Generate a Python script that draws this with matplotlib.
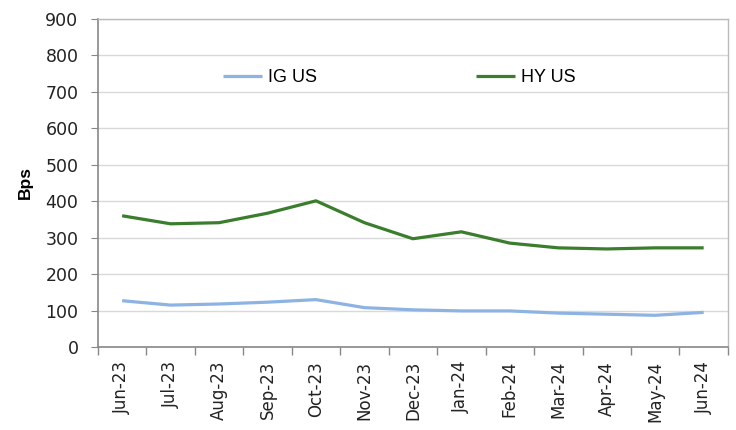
import numpy as np
import matplotlib
matplotlib.use("Agg")
import matplotlib.pyplot as plt

plt.rcParams['font.family'] = ['DejaVu Sans']

months = ["Jun-23", "Jul-23", "Aug-23", "Sep-23", "Oct-23", "Nov-23", "Dec-23",
          "Jan-24", "Feb-24", "Mar-24", "Apr-24", "May-24", "Jun-24"]
ig_us = [127, 115, 118, 123, 130, 108, 102, 99, 99, 93, 90, 87, 95]
hy_us = [360, 338, 341, 367, 401, 341, 297, 316, 285, 272, 269, 272, 272]

fig = plt.figure(figsize=(7.36, 4.30), dpi=100)
ax = fig.add_axes([0.133, 0.193, 0.856, 0.763])

x = np.arange(len(months))
ax.plot(x, ig_us, color='#8db3e2', lw=2.3, label='IG US', solid_capstyle='butt')
ax.plot(x, hy_us, color='#3a7d2c', lw=2.3, label='HY US', solid_capstyle='butt')

ax.set_xlim(-0.5, len(months) - 0.5)
ax.set_ylim(0, 900)
ax.set_yticks(range(0, 901, 100))
ax.tick_params(axis='y', labelsize=12.5, length=5, color='#888888', pad=9,
               labelcolor='#222222')

# category labels at centers, tick marks at boundaries
ax.set_xticks(x)
ax.set_xticklabels(months, rotation=90, fontsize=12)
ax.tick_params(axis='x', which='major', length=0, pad=10, labelcolor='#222222')
ax.set_xticks(np.arange(-0.5, len(months), 1), minor=True)
ax.tick_params(axis='x', which='minor', length=6, color='#888888', width=1)

ax.grid(axis='y', color='#d9d9d9', lw=1)
ax.set_axisbelow(True)
for side in ['left', 'bottom']:
    ax.spines[side].set_color('#888888')
    ax.spines[side].set_linewidth(1.2)
for side in ['top', 'right']:
    ax.spines[side].set_color('#bbbbbb')
    ax.spines[side].set_linewidth(1)

ax.set_ylabel('Bps', fontsize=12.5, fontweight='bold', labelpad=9,
              family='Liberation Sans')

ax.legend(loc='center', bbox_to_anchor=(0.478, 0.82), ncol=2, frameon=False,
          prop={'family': 'Liberation Sans', 'size': 13},
          handlelength=2.2, handletextpad=0.3, columnspacing=8.8)

fig.savefig('out.png', dpi=100)
